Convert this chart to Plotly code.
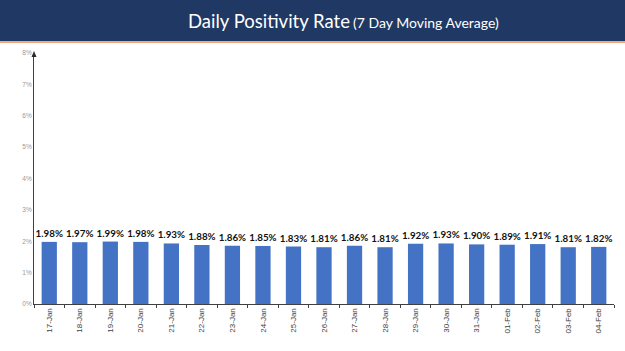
import plotly.graph_objects as go

dates = ["17-Jan", "18-Jan", "19-Jan", "20-Jan", "21-Jan", "22-Jan", "23-Jan", "24-Jan",
         "25-Jan", "26-Jan", "27-Jan", "28-Jan", "29-Jan", "30-Jan", "31-Jan", "01-Feb",
         "02-Feb", "03-Feb", "04-Feb"]
rates = [1.98, 1.97, 1.99, 1.98, 1.93, 1.88, 1.86, 1.85, 1.83, 1.81, 1.86, 1.81, 1.92,
         1.93, 1.90, 1.89, 1.91, 1.81, 1.82]
y_ticks = [0, 1, 2, 3, 4, 5, 6, 7, 8]

W, H = 625, 351
L, R, T, B = 34, 11, 53, 47
pw, ph = W - L - R, H - T - B

def px_y(p):  # pixel from top -> paper y
    return 1 + (T - p) / ph

def px_x(p):
    return (p - L) / pw

fig = go.Figure()
fig.add_trace(go.Bar(
    x=dates, y=rates, width=0.5,
    marker=dict(color="#4472C4", line=dict(width=0)),
    text=[f"{v:.2f}%" for v in rates], textposition="outside",
    constraintext="none",
    textfont=dict(family="Lato, Open Sans, sans-serif", size=9.8, color="#111111"),
    texttemplate="<b>%{text}</b>", cliponaxis=False,
))

fig.update_layout(
    width=W, height=H, margin=dict(l=L, r=R, t=T, b=B),
    paper_bgcolor="white", plot_bgcolor="white", showlegend=False,
    bargap=0.5,
    xaxis=dict(type="category", showgrid=False, showline=True, linecolor="#404040", linewidth=1,
               ticks="outside", ticklen=3, tickcolor="#404040", tickson="boundaries",
               tickangle=-90, tickfont=dict(family="Liberation Sans, Arial", size=8, color="#404040")),
    yaxis=dict(range=[0, 8], tickvals=y_ticks, ticktext=[f"{v}%" for v in y_ticks],
               showgrid=False, showline=True, linecolor="#404040", linewidth=1,
               ticks="", zeroline=False,
               tickfont=dict(family="Liberation Sans, Arial", size=6.5, color="#999999")),
    shapes=[
        dict(type="rect", xref="paper", yref="paper", x0=px_x(0), x1=px_x(W),
             y0=px_y(41), y1=px_y(0), fillcolor="#1F3864", line=dict(width=0), layer="above"),
        dict(type="rect", xref="paper", yref="paper", x0=px_x(0), x1=px_x(W),
             y0=px_y(43), y1=px_y(41), fillcolor="#EFA877", line=dict(width=0), layer="above"),
        dict(type="path", xref="paper", yref="paper",
             path=f"M {px_x(L-2.5)} {px_y(57)} L {px_x(L+2.5)} {px_y(57)} L {px_x(L)} {px_y(51)} Z",
             fillcolor="#262626", line=dict(width=0)),
        dict(type="line", xref="paper", yref="paper", x0=0, x1=0, y0=1, y1=px_y(55),
             line=dict(color="#404040", width=1)),
    ],
    annotations=[
        dict(xref="paper", yref="paper", x=px_x(343), y=px_y(21), showarrow=False,
             xanchor="center", yanchor="middle",
             text="<span style='font-size:18.5px'>Daily Positivity Rate</span> "
                  "<span style='font-size:14px'>(7 Day Moving Average)</span>",
             font=dict(family="Lato, Open Sans, sans-serif", color="white")),
    ],
)

fig.write_html("out.html")
